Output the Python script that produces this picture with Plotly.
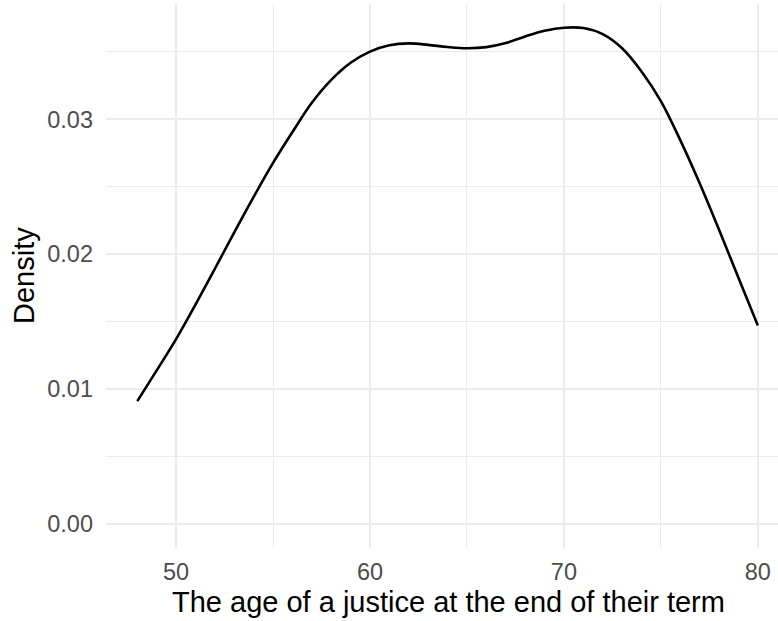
import plotly.graph_objects as go

# Age at end of term (years) and estimated kernel density
ages = [48, 49, 50, 51, 52, 53, 54, 55, 56, 57, 58, 59, 60, 61, 62, 63, 64,
        65, 66, 67, 68, 69, 70, 71, 72, 73, 74, 75, 76, 77, 78, 79, 80]
density = [0.0091, 0.01138, 0.0137, 0.01626, 0.01892, 0.02162, 0.02425, 0.02677,
           0.02906, 0.03123, 0.03293, 0.03420, 0.03503, 0.03550, 0.03564, 0.03553,
           0.03537, 0.03528, 0.03536, 0.03566, 0.03615, 0.03657, 0.03680,
           0.03678, 0.03633, 0.03528, 0.03356, 0.03136, 0.02846, 0.02526,
           0.02181, 0.01826, 0.01471]

x_ticks = [50, 60, 70, 80]
y_ticks = [0.00, 0.01, 0.02, 0.03]
y_tick_labels = ["0.00", "0.01", "0.02", "0.03"]
x_title = "The age of a justice at the end of their term"
y_title = "Density"

FONT = "Liberation Sans, Arial, Helvetica, sans-serif"
GRID = "#EBEBEB"

fig = go.Figure()
fig.add_trace(go.Scatter(x=ages, y=density, mode="lines",
                         line=dict(color="black", width=2.6, shape="spline", smoothing=1.0),
                         hoverinfo="skip", showlegend=False))

W, H = 778, 621
L, R, T, B = 106, 0, 4, 73

fig.update_layout(
    width=W, height=H,
    margin=dict(l=L, r=R, t=T, b=B, pad=0),
    paper_bgcolor="white", plot_bgcolor="white",
    font=dict(family=FONT),
    xaxis=dict(range=[46.385, 81.04], tickvals=x_ticks, ticktext=[str(v) for v in x_ticks],
               showgrid=True, gridcolor=GRID, gridwidth=2,
               minor=dict(tickvals=[45, 55, 65, 75], showgrid=True, gridcolor=GRID, gridwidth=1),
               zeroline=False, showline=False, ticks="",
               tickfont=dict(size=23.5, color="#4D4D4D", family=FONT),
               ticklabelstandoff=7),
    yaxis=dict(range=[-0.001795, 0.03856], tickvals=y_ticks, ticktext=y_tick_labels,
               showgrid=True, gridcolor=GRID, gridwidth=2,
               minor=dict(tickvals=[0.005, 0.015, 0.025, 0.035], showgrid=True, gridcolor=GRID, gridwidth=1),
               zeroline=False, showline=False, ticks="",
               tickfont=dict(size=23.5, color="#4D4D4D", family=FONT),
               ticklabelstandoff=12),
    annotations=[
        dict(text=x_title, xref="paper", yref="paper",
             x=(448 - L) / (W - L - R), y=-(602 - (H - B)) / (H - T - B),
             xanchor="center", yanchor="middle", showarrow=False,
             font=dict(size=29, color="black", family=FONT)),
        dict(text=y_title, xref="paper", yref="paper",
             x=-(L - 24) / (W - L - R), y=(H - B - 276) / (H - T - B),
             xanchor="center", yanchor="middle", textangle=-90, showarrow=False,
             font=dict(size=29, color="black", family=FONT)),
    ],
)

fig.write_html("out.html", config={"displayModeBar": False},
               post_script="document.body.style.margin='0';document.body.style.padding='0';")
